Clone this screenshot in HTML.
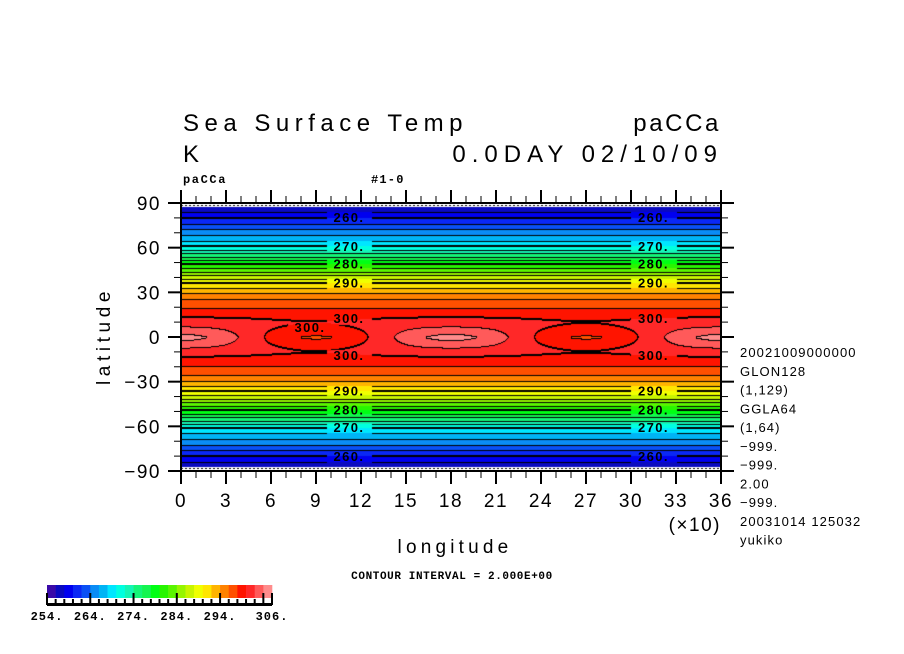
<!DOCTYPE html>
<html><head><meta charset="utf-8">
<style>
html,body{margin:0;padding:0;background:#fff;}
#wrap{position:relative;width:904px;height:654px;overflow:hidden;background:#fff;}
canvas,svg{position:absolute;left:0;top:0;}
text{font-family:"Liberation Sans",sans-serif;}
.mono{font-family:"Liberation Mono",monospace;}
</style></head>
<body>
<div id="wrap">
<canvas id="cv" width="904" height="654"></canvas>
<svg id="sv" width="904" height="654" xmlns="http://www.w3.org/2000/svg">
<g id="titles" fill="#000">
<text x="183" y="131" font-size="24" letter-spacing="5.5">Sea Surface Temp</text>
<text x="721" y="131" font-size="24" letter-spacing="2.6" text-anchor="end">paCCa</text>
<text x="183" y="162" font-size="24">K</text>
<text x="723" y="162" font-size="24" letter-spacing="6" text-anchor="end">0.0DAY 02/10/09</text>
<text x="183" y="183" font-size="12" font-weight="bold" letter-spacing="1.6" class="mono">paCCa</text>
<text x="371" y="183" font-size="12" font-weight="bold" letter-spacing="1.2" class="mono">#1-0</text>
<text x="455" y="553" font-size="19" letter-spacing="4.2" text-anchor="middle">longitude</text>
<text x="721" y="531" font-size="19" letter-spacing="1.5" text-anchor="end">(×10)</text>
<text transform="translate(110,336) rotate(-90)" font-size="19" letter-spacing="4.6" text-anchor="middle">latitude</text>
<text x="452" y="579" font-size="11" font-weight="bold" letter-spacing="0.6" text-anchor="middle" class="mono">CONTOUR INTERVAL = 2.000E+00</text>
</g>
<g id="info" class="mono" font-size="13" letter-spacing="1.1" fill="#000"></g>
<g id="axes"></g>
<g id="clabels" font-size="13" font-weight="bold" letter-spacing="1.4" class="mono" fill="#000" text-anchor="middle"></g>
<g id="cbar"></g>
</svg>
</div>
<script>
// ---- data ----
const latNodes = [0,5,10,15,20,25,30,35,40,45,50,55,60,65,70,75,80,85,90];
const zonalT   = [301.2,301,300.6,299.4,297.9,296.4,293.6,291,287.1,283.2,279.3,275.2,270.5,267.8,265.2,262.5,260.1,257.4,255];
const lonNodes = [0,10,20,30,40,50,60,70,80,90,100,110,120,130,140,150,160,170,180];
const lonAnom  = [3.5,3.29,2.68,1.75,0.61,-0.61,-1.75,-2.68,-3.29,-3.5,-3.29,-2.68,-1.75,-0.61,0.61,1.75,2.68,3.29,3.5];
const decayLat = [0,2.5,5,7.5,10,15,90];
const decayVal = [1,0.8,0.55,0.3,0.15,0,0];
const levelColors = ["#3a0aa8","#0a0ac0","#0000f0","#0a28f5","#0a50f5","#0a8cf5","#00b4f5","#00e6ff","#00ffe0","#14f5b4","#14f578","#14f550","#00ff14","#28f500","#5af500","#96f500","#c8f500","#f0ff00","#ffe600","#ffb400","#ff8200","#ff5000","#ff1400","#ff2828","#ff5a5a","#ff8c8c"];
const cbarLabels = ["254.","264.","274.","284.","294.","306."];
const xTickLabels = ["0","3","6","9","12","15","18","21","24","27","30","33","36"];
const yTickLabels = ["90","60","30","0","−30","−60","−90"];
const infoLines = ["20021009000000","GLON128","(1,129)","GGLA64","(1,64)","−999.","−999.","2.00","−999.","20031014 125032","yukiko"];
const labelLevels = [260,270,280,290,300];
const LEV0 = 254, DLEV = 2;

// ---- axes functions ----
const X0=181, X1=721, Y0=203, Y1=471;
const xs = lon => X0 + (lon/360)*(X1-X0);
const ys = lat => (Y0+Y1)/2 - lat*(Y1-Y0)/180;
const lonOf = x => (x - X0)/(X1-X0)*360;
const latOf = y => ((Y0+Y1)/2 - y)/((Y1-Y0)/180);
function interp(xa, ya, v){
  if(v<=xa[0]) return ya[0];
  for(let i=1;i<xa.length;i++){ if(v<=xa[i]){ const t=(v-xa[i-1])/(xa[i]-xa[i-1]); return ya[i-1]+t*(ya[i]-ya[i-1]); } }
  return ya[ya.length-1];
}
function T(lon, lat){
  const a=Math.abs(lat);
  const l=((lon%180)+180)%180;
  return interp(latNodes,zonalT,a) + interp(lonNodes,lonAnom,l)*interp(decayLat,decayVal,a);
}
const lvl = t => Math.max(0, Math.min(levelColors.length-1, Math.floor((t-LEV0)/DLEV)));

function latForLevel(lev){
  for(let i=1;i<latNodes.length;i++){
    const a=zonalT[i-1], b=zonalT[i];
    if((a-lev)*(b-lev)<=0 && a!==b) return latNodes[i-1]+(lev-a)/(b-a)*(latNodes[i]-latNodes[i-1]);
  }
  return 0;
}
const labels=[];
labelLevels.forEach(lev=>{
  const la=latForLevel(lev);
  [1,-1].forEach(s=>{
    [112,315].forEach(lo=>{ labels.push({lev, x:xs(lo), y:ys(s*la)}); });
  });
});
labels.push({lev:300, x:xs(86), y:ys(6.5)});

// ---- draw field ----
const cv=document.getElementById('cv'), ctx=cv.getContext('2d');
const latEdge=87.2;
const yTop=Math.round(ys(latEdge)), yBot=Math.round(ys(-latEdge));
const W=X1-X0, H=yBot-yTop;
const idx=new Int16Array(W*H);
for(let j=0;j<H;j++) for(let i=0;i<W;i++) idx[j*W+i]=lvl(T(lonOf(X0+i+0.5), latOf(yTop+j+0.5)));
const img=ctx.createImageData(W,H);
const rgb=levelColors.map(c=>[parseInt(c.slice(1,3),16),parseInt(c.slice(3,5),16),parseInt(c.slice(5,7),16)]);
function inLabel(px,py){ for(const L of labels){ if(Math.abs(px-L.x)<23 && Math.abs(py-L.y)<6) return true; } return false; }
for(let j=0;j<H;j++) for(let i=0;i<W;i++){
  const k=idx[j*W+i]; let c=rgb[k];
  let edge=false;
  if(j>0 && idx[(j-1)*W+i]!==k){ edge=true; }
  if(i>0 && idx[j*W+i-1]!==k){ edge=true; }
  if(j<H-1){ const kb=idx[(j+1)*W+i]; if(kb!==k && (LEV0+DLEV*Math.max(k,kb))%10===0) edge=true; }
  if(edge && !inLabel(X0+i,yTop+j)) c=[0,0,0];
  const p=(j*W+i)*4; img.data[p]=c[0];img.data[p+1]=c[1];img.data[p+2]=c[2];img.data[p+3]=255;
}
ctx.putImageData(img,X0,yTop);
for(let x=X0;x<X1;x+=4){ ctx.fillStyle='#000'; ctx.fillRect(x,yTop-2,2,1); ctx.fillRect(x,yBot+1,2,1); }

// ---- SVG helpers ----
const NS='http://www.w3.org/2000/svg';
function el(tag, attrs, parent, txt){ const e=document.createElementNS(NS,tag); for(const k in attrs) e.setAttribute(k,attrs[k]); if(txt!==undefined) e.textContent=txt; parent.appendChild(e); return e; }
const axes=document.getElementById('axes');
let e;
e=el('line',{x1:X0,y1:Y0,x2:X1,y2:Y0,stroke:'#000','stroke-width':2},axes);
 
e=el('line',{x1:X0,y1:Y1,x2:X1,y2:Y1,stroke:'#000','stroke-width':2},axes);
 
e=el('line',{x1:X0,y1:Y0,x2:X0,y2:Y1,stroke:'#000','stroke-width':2},axes);
 
e=el('line',{x1:X1,y1:Y0,x2:X1,y2:Y1,stroke:'#000','stroke-width':2},axes);
 
for(let lon=0;lon<=360;lon+=10){
  const major=lon%30===0, x=xs(lon), L=major?13:7, sw=major?2:1;
  e=el('line',{x1:x,y1:Y1,x2:x,y2:Y1+L,stroke:'#000','stroke-width':sw},axes);
   
  e=el('line',{x1:x,y1:Y0,x2:x,y2:Y0-L,stroke:'#000','stroke-width':sw},axes);
   
}
xTickLabels.forEach((t,i)=>{
  e=el('text',{x:xs(i*30),y:507,'font-size':19,'text-anchor':'middle','letter-spacing':1.5},axes,t);
   
});
for(let lat=-90;lat<=90;lat+=10){
  const major=lat%30===0, y=ys(lat), L=major?13:7, sw=major?2:1;
  e=el('line',{x1:X0,y1:y,x2:X0-L,y2:y,stroke:'#000','stroke-width':sw},axes);
   
  e=el('line',{x1:X1,y1:y,x2:X1+L,y2:y,stroke:'#000','stroke-width':sw},axes);
   
}
yTickLabels.forEach((t,i)=>{
  e=el('text',{x:161,y:ys(90-i*30)+7,'font-size':19,'text-anchor':'end','letter-spacing':1.5},axes,t);
   
});
const cl=document.getElementById('clabels');
labels.forEach(L=>{
  e=el('text',{x:L.x,y:L.y+4.5},cl,L.lev+'.');
   
});
const info=document.getElementById('info');
infoLines.forEach((t,i)=>{
  e=el('text',{x:740,y:357+i*18.75},info,t);
   
});
const cb=document.getElementById('cbar');
const CB0=47, CB1=272, CBT=585, CBB=598;
const bw=(CB1-CB0)/levelColors.length;
levelColors.forEach((c,i)=>{
  e=el('rect',{x:CB0+i*bw,y:CBT,width:bw+0.3,height:CBB-CBT,fill:c},cb);
   
});
e=el('rect',{x:CB0,y:603,width:CB1-CB0,height:3,fill:'#000'},cb);
 
for(let i=0;i<=levelColors.length;i++){
  const major=(i%5===0)||i===levelColors.length;
  e=el('rect',{x:CB0+i*bw-1,y:major?593:599,width:2,height:major?12:6,fill:'#000'},cb);
   
}
const cbIdx=[0,5,10,15,20,26];
cbarLabels.forEach((t,i)=>{
  e=el('text',{x:CB0+cbIdx[i]*bw,y:620,'font-size':12,'font-weight':'bold','letter-spacing':1,'text-anchor':'middle','class':'mono'},cb,t);
   
});
</script>
</body></html>
